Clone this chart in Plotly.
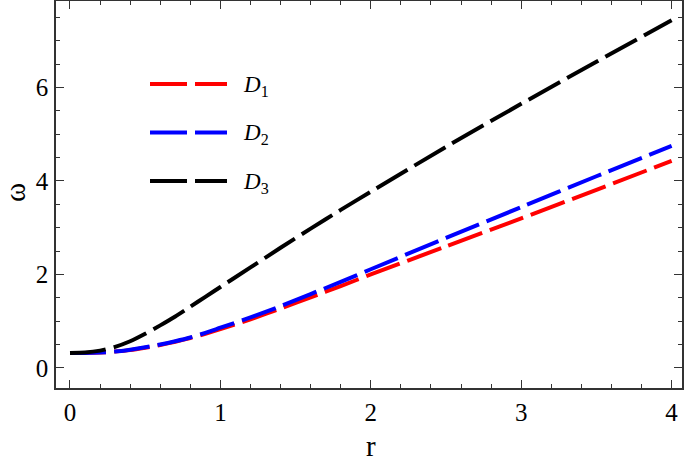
import plotly.graph_objects as go

r_vals = [0, 0.1, 0.2, 0.3, 0.4, 0.5, 0.6, 0.7, 0.8, 0.9, 1.0, 1.2, 1.4, 1.6, 1.8, 2.0, 2.5, 3.0, 3.5, 4.0]
D1 = [0.32, 0.32, 0.33, 0.35, 0.38, 0.43, 0.49, 0.56, 0.64, 0.73, 0.83, 1.04, 1.27, 1.51, 1.75, 2.00, 2.60, 3.20, 3.81, 4.43]
D2 = [0.32, 0.32, 0.33, 0.35, 0.39, 0.44, 0.50, 0.57, 0.65, 0.75, 0.86, 1.08, 1.32, 1.58, 1.84, 2.11, 2.78, 3.44, 4.10, 4.75]
D3 = [0.32, 0.33, 0.37, 0.45, 0.57, 0.73, 0.91, 1.10, 1.31, 1.52, 1.73, 2.15, 2.57, 2.98, 3.38, 3.77, 4.73, 5.65, 6.55, 7.44]

series_names = ["<i>D</i><sub>1</sub>", "<i>D</i><sub>2</sub>", "<i>D</i><sub>3</sub>"]
series_vals = [D1, D2, D3]
colors = ["#ff0000", "#0000ff", "#000000"]

x_ticks = [0, 1, 2, 3, 4]
y_ticks = [0, 2, 4, 6]
x_title = "r"
y_title = "ω"

FONT = "Liberation Serif"

W, H = 685, 465
ml, mr, mt, mb = 56, 3, 1, 77
pw, ph = W - ml - mr, H - mt - mb

fig = go.Figure()
for name, vals, c in zip(series_names, series_vals, colors):
    fig.add_trace(go.Scatter(x=r_vals, y=vals, mode="lines", name=name,
                             line=dict(color=c, width=4, dash="36px,8px", shape="spline", smoothing=0.6),
                             showlegend=False))

def px_x(p):
    return (p - ml) / pw

def px_y(p):
    return (H - mb - p) / ph

# legend (drawn manually to match the reference sample length)
leg_y = [84, 132.5, 181]
shapes = []
annotations = []
for name, c, yy in zip(series_names, colors, leg_y):
    shapes.append(dict(type="line", xref="paper", yref="paper",
                       x0=px_x(150), x1=px_x(227), y0=px_y(yy), y1=px_y(yy),
                       line=dict(color=c, width=4, dash="37px,8px")))
    annotations.append(dict(xref="paper", yref="paper", x=px_x(241), y=px_y(yy + 2),
                            text=name, showarrow=False, xanchor="left", yanchor="middle",
                            font=dict(family=FONT, size=23, color="black")))

annotations.append(dict(xref="paper", yref="paper", x=px_x(371), y=px_y(446),
                        text=x_title, showarrow=False, xanchor="center", yanchor="middle",
                        font=dict(family=FONT, size=29, color="black")))
annotations.append(dict(xref="paper", yref="paper", x=px_x(15), y=px_y(193),
                        text=y_title, showarrow=False, xanchor="center", yanchor="middle",
                        textangle=-90,
                        font=dict(family=FONT, size=29, color="black")))

axis_common = dict(
    showline=True, linecolor="#333333", linewidth=1.5, mirror="ticks",
    ticks="inside", ticklen=8, tickwidth=1.2, tickcolor="#333333",
    showgrid=False, zeroline=False, automargin=False,
    tickfont=dict(family=FONT, size=25, color="black"),
)

fig.update_layout(
    width=W, height=H,
    margin=dict(l=ml, r=mr, t=mt, b=mb, autoexpand=False),
    paper_bgcolor="white", plot_bgcolor="white",
    shapes=shapes, annotations=annotations,
    xaxis=dict(range=[-0.093, 4.069], tickvals=x_ticks,
               minor=dict(dtick=0.2, tick0=0, ticks="inside", ticklen=4.5, tickcolor="#333333", tickwidth=1),
               ticklabelstandoff=1,
               **axis_common),
    yaxis=dict(range=[-0.43, 7.85], tickvals=y_ticks,
               minor=dict(dtick=0.5, tick0=0, ticks="inside", ticklen=4.5, tickcolor="#333333", tickwidth=1),
               ticklabelstandoff=1,
               **axis_common),
)

fig.write_html("out.html", config={"displayModeBar": False},
               post_script="document.body.style.margin='0';document.body.style.overflow='hidden';")
